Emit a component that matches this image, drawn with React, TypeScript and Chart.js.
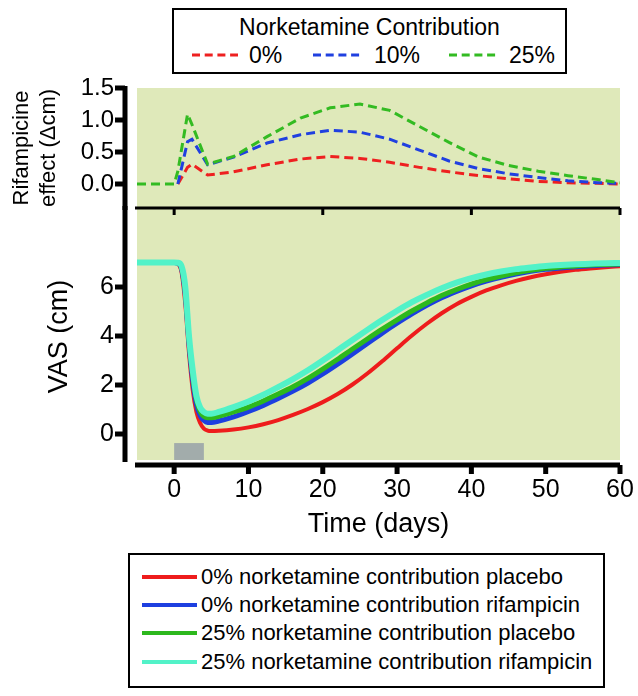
import React, { useEffect, useRef } from 'react';
import { Chart, registerables } from 'chart.js';

Chart.register(...registerables);

const FONT = "'Liberation Sans', Arial, Helvetica, sans-serif";

// ---------- data ----------
const X_MIN = -5;
const X_MAX = 60;
const X_TICKS = [0, 10, 20, 30, 40, 50, 60];
const TOP_X_TICKS = [0, 20, 40, 60];
const TOP_Y_TICKS = [0, 0.5, 1.0, 1.5];
const VAS_TICKS = [0, 2, 4, 6];
const DOSE_DAYS = [0, 4];
const DOSE_BAR_VAS = [-1.06, -0.37];

// Rifampicine effect (Δcm) by norketamine contribution
const RIF_DAYS = [-5, 0, 0.5, 1.8, 2.4, 4.5, 8, 12.5, 17, 21, 25, 29, 33, 37, 41, 45, 49, 53, 57, 60];
const RIF_0 = [null, null, 0, 0.26, 0.31, 0.14, 0.19, 0.3, 0.39, 0.43, 0.4, 0.34, 0.26, 0.19, 0.13, 0.08, 0.04, 0.02, 0.01, 0.0];
const RIF_10 = [null, null, 0, 0.66, 0.7, 0.3, 0.42, 0.64, 0.77, 0.84, 0.81, 0.7, 0.53, 0.36, 0.24, 0.16, 0.1, 0.05, 0.02, 0.01];
const RIF_25 = [0, 0, 0.2, 1.09, 0.93, 0.31, 0.43, 0.74, 1.03, 1.19, 1.25, 1.15, 0.9, 0.65, 0.42, 0.29, 0.2, 0.13, 0.07, 0.02];

// VAS (cm)
const VAS_DAYS = [-5, 0, 0.5, 1, 1.5, 2, 2.5, 3, 3.5, 4, 4.5, 5, 6, 8, 10, 12, 14, 16, 18, 20, 22, 24, 26, 28, 30, 32, 34, 36, 38, 40, 42, 44, 46, 48, 50, 52, 54, 56, 58, 60];
const VAS_0_PLACEBO = [7, 7, 6.95, 6.6, 5.3, 3.3, 1.8, 0.9, 0.45, 0.22, 0.14, 0.12, 0.13, 0.18, 0.27, 0.4, 0.57, 0.78, 1.02, 1.3, 1.63, 2.02, 2.47, 2.97, 3.5, 4.02, 4.5, 4.93, 5.3, 5.6, 5.86, 6.07, 6.25, 6.4, 6.52, 6.62, 6.7, 6.76, 6.81, 6.85];
const VAS_0_RIF = [7, 7, 6.97, 6.75, 5.7, 3.7, 2.2, 1.2, 0.75, 0.55, 0.47, 0.47, 0.53, 0.7, 0.92, 1.17, 1.45, 1.75, 2.08, 2.45, 2.85, 3.27, 3.7, 4.12, 4.52, 4.9, 5.25, 5.56, 5.82, 6.05, 6.24, 6.4, 6.53, 6.64, 6.72, 6.78, 6.83, 6.87, 6.9, 6.92];
const VAS_25_PLACEBO = [7, 7, 6.98, 6.8, 5.85, 3.85, 2.4, 1.4, 0.92, 0.72, 0.66, 0.66, 0.72, 0.9, 1.1, 1.35, 1.63, 1.93, 2.27, 2.65, 3.05, 3.47, 3.88, 4.28, 4.66, 5.02, 5.35, 5.65, 5.9, 6.12, 6.3, 6.45, 6.58, 6.68, 6.76, 6.82, 6.86, 6.9, 6.92, 6.94];
const VAS_25_RIF = [7, 7, 6.99, 6.85, 6.0, 4.0, 2.6, 1.55, 1.08, 0.9, 0.83, 0.83, 0.9, 1.1, 1.33, 1.6, 1.91, 2.24, 2.6, 3.0, 3.42, 3.84, 4.25, 4.65, 5.03, 5.38, 5.68, 5.95, 6.18, 6.36, 6.51, 6.63, 6.73, 6.8, 6.86, 6.9, 6.93, 6.95, 6.97, 6.98];

const TOP_LABELS = ['0%', '10%', '25%'];
const BOTTOM_LABELS = [
  '0% norketamine contribution placebo',
  '0% norketamine contribution rifampicin',
  '25% norketamine contribution placebo',
  '25% norketamine contribution rifampicin',
];

// ---------- styles ----------
const BG = '#dfe9ba';
const DOSE_COLOR = '#a2acab';
const DASH_COLORS = ['#ee2020', '#2040e0', '#33bb22'];
const LINE_COLORS = ['#ee1c1c', '#1d3fe0', '#2db81d', '#52f2c8'];
const LINE_WIDTHS = [4, 5, 5, 6];
const AXIS_GAP = 12;

function hLine(ctx: CanvasRenderingContext2D, x1: number, x2: number, y: number, w: number) {
  ctx.fillRect(Math.min(x1, x2), y - w / 2, Math.abs(x2 - x1), w);
}
function vLine(ctx: CanvasRenderingContext2D, x: number, y1: number, y2: number, w: number) {
  ctx.fillRect(x - w / 2, Math.min(y1, y2), w, Math.abs(y2 - y1));
}

const topPanelPlugin = {
  id: 'topPanel',
  beforeDatasetsDraw(chart: any) {
    const { ctx, chartArea } = chart;
    const xs = chart.scales.x;
    const ys = chart.scales.y;
    const { left, right, top, bottom } = chartArea;
    ctx.save();
    ctx.fillStyle = BG;
    ctx.fillRect(left, top, right - left, bottom - top);
    ctx.fillStyle = '#000';
    hLine(ctx, left - 2, right, bottom, 3);
    TOP_X_TICKS.forEach((v) => {
      vLine(ctx, xs.getPixelForValue(v), bottom, bottom + 7, 3);
    });
    const ax = left - AXIS_GAP;
    vLine(ctx, ax, top - 2, bottom + 2, 5);
    TOP_Y_TICKS.forEach((v) => {
      hLine(ctx, ax - 10, ax, ys.getPixelForValue(v), 5);
    });
    ctx.restore();
  },
};

const bottomPanelPlugin = {
  id: 'bottomPanel',
  beforeDatasetsDraw(chart: any) {
    const { ctx, chartArea } = chart;
    const xs = chart.scales.x;
    const ys = chart.scales.y;
    const { left, right, top, bottom } = chartArea;
    ctx.save();
    ctx.fillStyle = BG;
    ctx.fillRect(left, top, right - left, bottom - 5 - top);
    const xa = xs.getPixelForValue(DOSE_DAYS[0]);
    const xb = xs.getPixelForValue(DOSE_DAYS[1]);
    const ya = ys.getPixelForValue(DOSE_BAR_VAS[1]);
    const yb = ys.getPixelForValue(DOSE_BAR_VAS[0]);
    ctx.fillStyle = DOSE_COLOR;
    ctx.fillRect(xa, ya, xb - xa, yb - ya);
    ctx.fillStyle = '#000';
    const ax = left - AXIS_GAP;
    vLine(ctx, ax, top - 2, bottom - 3, 5);
    VAS_TICKS.forEach((v) => {
      hLine(ctx, ax - 10, ax, ys.getPixelForValue(v), 5);
    });
    hLine(ctx, left - 2, right, bottom, 5);
    X_TICKS.forEach((v) => {
      vLine(ctx, xs.getPixelForValue(v), bottom, bottom + 9, 5);
    });
    ctx.restore();
  },
};

function topConfig(): any {
  const series = [RIF_0, RIF_10, RIF_25];
  return {
    type: 'line',
    data: {
      datasets: series.map((vals, i) => ({
        label: TOP_LABELS[i],
        data: RIF_DAYS.map((d, j) => ({ x: d, y: vals[j] })),
        borderColor: DASH_COLORS[i],
        borderWidth: 3,
        borderDash: [9, 5],
        pointRadius: 0,
        tension: 0,
        spanGaps: false,
        order: 3 - i,
      })),
    },
    options: {
      responsive: false,
      animation: false,
      events: [],
      layout: { padding: { left: 0, top: 88, right: 18, bottom: 696 - 208 } },
      plugins: { legend: { display: false }, tooltip: { enabled: false } },
      scales: {
        x: {
          type: 'linear', min: X_MIN, max: X_MAX,
          grid: { display: false, drawTicks: false }, border: { display: false }, ticks: { display: false },
          afterFit: (s: any) => { s.height = 0; s.paddingLeft = 0; s.paddingRight = 0; },
        },
        y: {
          type: 'linear', min: -0.375, max: 1.5,
          grid: { display: false, drawTicks: false }, border: { display: false },
          afterBuildTicks: (s: any) => { s.ticks = TOP_Y_TICKS.map((v) => ({ value: v })); },
          ticks: { color: '#000', font: { size: 24, family: FONT }, padding: 23, callback: (v: any) => Number(v).toFixed(1) },
          title: { display: true, text: ['Rifampicine', 'effect (Δcm)'], color: '#000', font: { size: 22, family: FONT }, padding: { top: 9, bottom: 0 } },
          afterFit: (s: any) => { s.width = 137; },
        },
      },
    },
    plugins: [topPanelPlugin],
  };
}

function bottomConfig(): any {
  const series = [VAS_0_PLACEBO, VAS_0_RIF, VAS_25_PLACEBO, VAS_25_RIF];
  return {
    type: 'line',
    data: {
      datasets: series.map((vals, i) => ({
        label: BOTTOM_LABELS[i],
        data: VAS_DAYS.map((d, j) => ({ x: d, y: vals[j] })),
        borderColor: LINE_COLORS[i],
        borderWidth: LINE_WIDTHS[i],
        pointRadius: 0,
        cubicInterpolationMode: 'monotone',
        order: 4 - i,
      })),
    },
    options: {
      responsive: false,
      animation: false,
      events: [],
      layout: { padding: { left: 0, top: 208, right: 18, bottom: 696 - 465 - 76 } },
      plugins: { legend: { display: false }, tooltip: { enabled: false } },
      scales: {
        x: {
          type: 'linear', min: X_MIN, max: X_MAX,
          grid: { display: false, drawTicks: false }, border: { display: false },
          afterBuildTicks: (s: any) => { s.ticks = X_TICKS.map((v) => ({ value: v })); },
          ticks: { color: '#000', font: { size: 25, family: FONT }, padding: 10, maxRotation: 0 },
          title: { display: true, text: 'Time (days)', color: '#000', font: { size: 27, family: FONT }, padding: { top: 0, bottom: 0 } },
          afterFit: (s: any) => { s.height = 76; s.paddingLeft = 0; s.paddingRight = 0; },
        },
        y: {
          type: 'linear', min: -1.265, max: 9.225,
          grid: { display: false, drawTicks: false }, border: { display: false },
          afterBuildTicks: (s: any) => { s.ticks = VAS_TICKS.map((v) => ({ value: v })); },
          ticks: { color: '#000', font: { size: 25, family: FONT }, padding: 23 },
          title: { display: true, text: 'VAS (cm)', color: '#000', font: { size: 27, family: FONT }, padding: { top: 43, bottom: 0 } },
          afterFit: (s: any) => { s.width = 137; },
        },
      },
    },
    plugins: [bottomPanelPlugin],
  };
}

const TOP_LEGEND_X = [[192, 238, 249], [313, 363, 374], [449, 498, 509]];
const BOTTOM_LEGEND_Y = [577, 605, 633, 662];

export default function App() {
  const topRef = useRef<HTMLCanvasElement>(null);
  const botRef = useRef<HTMLCanvasElement>(null);

  useEffect(() => {
    Chart.defaults.font.family = FONT;
    Chart.defaults.color = '#000';
    const bot = new Chart(botRef.current as HTMLCanvasElement, bottomConfig());
    const top = new Chart(topRef.current as HTMLCanvasElement, topConfig());
    return () => {
      top.destroy();
      bot.destroy();
    };
  }, []);

  const txt = (size: number): React.CSSProperties => ({
    position: 'absolute', fontFamily: FONT, fontSize: size, lineHeight: `${size}px`, color: '#000', whiteSpace: 'nowrap',
  });

  return (
    <div style={{ position: 'absolute', left: 0, top: 0, width: 638, height: 696, background: '#fff', overflow: 'hidden' }}>
      <canvas ref={botRef} width={638} height={696} style={{ position: 'absolute', left: 0, top: 0 }} />
      <canvas ref={topRef} width={638} height={696} style={{ position: 'absolute', left: 0, top: 0 }} />

      {/* top legend */}
      <div style={{ position: 'absolute', left: 172, top: 8, width: 395, height: 66, border: '2px solid #000', boxSizing: 'border-box', background: '#fff' }} />
      <div style={{ ...txt(23), left: 172, width: 395, top: 15.5, textAlign: 'center' }}>Norketamine Contribution</div>
      {TOP_LABELS.map((l, i) => (
        <div key={l} style={{ ...txt(23), left: TOP_LEGEND_X[i][2], top: 55 - 11.5 }}>{l}</div>
      ))}

      {/* bottom legend */}
      <div style={{ position: 'absolute', left: 128, top: 553, width: 477, height: 135, border: '2px solid #000', boxSizing: 'border-box', background: '#fff' }} />
      {BOTTOM_LABELS.map((l, i) => (
        <div key={l} style={{ ...txt(22), left: 201, top: BOTTOM_LEGEND_Y[i] - 11 }}>{l}</div>
      ))}

      <svg width={638} height={696} style={{ position: 'absolute', left: 0, top: 0, pointerEvents: 'none' }}>
        {TOP_LABELS.map((l, i) => (
          <line key={l} x1={TOP_LEGEND_X[i][0]} x2={TOP_LEGEND_X[i][1]} y1={55} y2={55} stroke={DASH_COLORS[i]} strokeWidth={3} strokeDasharray="8 4.7" />
        ))}
        {BOTTOM_LABELS.map((l, i) => (
          <line key={l} x1={142} x2={197} y1={BOTTOM_LEGEND_Y[i]} y2={BOTTOM_LEGEND_Y[i]} stroke={LINE_COLORS[i]} strokeWidth={4} />
        ))}
      </svg>
    </div>
  );
}
